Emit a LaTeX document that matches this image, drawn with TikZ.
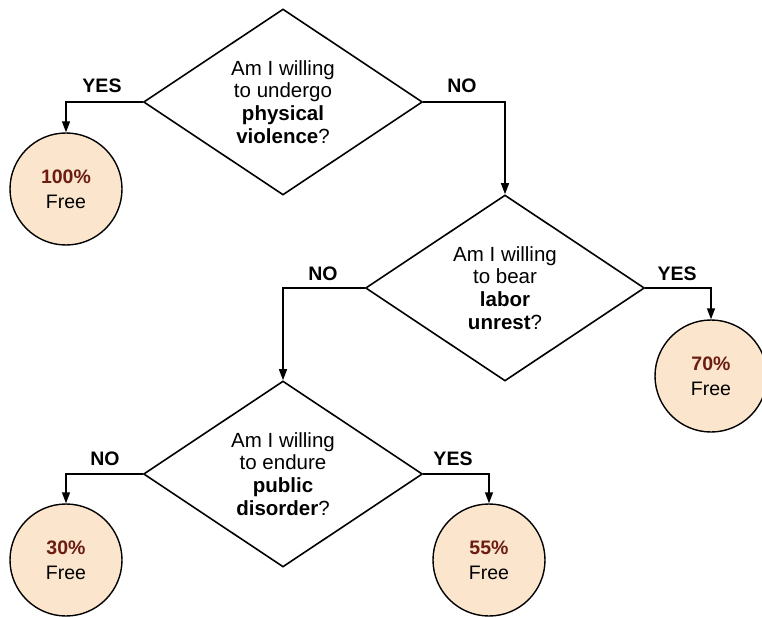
\documentclass[tikz,border=0pt]{standalone}
\usepackage{fontspec}
\setmainfont{Liberation Sans}
\usetikzlibrary{arrows.meta}
\usetikzlibrary{shapes.geometric}
\tikzset{quest/.style = {draw, diamond, aspect = 1.5, inner sep = 0, minimum width = 279pt, minimum height = 186pt, line width = 1.6pt, align = center, font = \fontsize{20.5}{22.7}\selectfont}}
\tikzset{outcome/.style = {draw, fill = mpeach, circle, inner sep = 0, minimum size = 112pt, line width = 1.4pt, align = center, font = \fontsize{19.5}{25}\selectfont}}
\tikzset{answer/.style = {anchor = base, font = \fontsize{19.5}{22}\selectfont\bfseries}}
\tikzset{link/.style = {line width = 1.4pt, -{Triangle[length = 11pt, width = 8pt]}}}
\definecolor{mpeach}{HTML}{FCE5CD}
\definecolor{mbrown}{HTML}{6B1D12}

\begin{document}
\begin{tikzpicture}[x = 1pt, y = -1pt]
      \useasboundingbox (0, 0) rectangle (762, 617);

      \node [quest] (q1) at (283, 102) {Am I willing\\to undergo\\\textbf{physical}\\\textbf{violence}?};
      \node [quest] (q2) at (505, 288) {Am I willing\\to bear\\\textbf{labor}\\\textbf{unrest}?};
      \node [quest] (q3) at (283, 474) {Am I willing\\to endure\\\textbf{public}\\\textbf{disorder}?};

      \node [outcome] (c100) at (66, 189) {\textcolor{mbrown}{\textbf{100\%}}\\Free};
      \node [outcome] (c70) at (711, 376) {\textcolor{mbrown}{\textbf{70\%}}\\Free};
      \node [outcome] (c30) at (66, 560) {\textcolor{mbrown}{\textbf{30\%}}\\Free};
      \node [outcome] (c55) at (489, 560) {\textcolor{mbrown}{\textbf{55\%}}\\Free};

      \draw [link] (q1.west) -| (c100.north);
      \draw [link] (q1.east) -| (q2.north);
      \draw [link] (q2.east) -| (c70.north);
      \draw [link] (q2.west) -| (q3.north);
      \draw [link] (q3.west) -| (c30.north);
      \draw [link] (q3.east) -| (c55.north);

      \node [answer] (yes1) at (102, 93) {YES};
      \node [answer] (no1) at (462, 93) {NO};
      \node [answer] (no2) at (323, 280) {NO};
      \node [answer] (yes2) at (677, 280) {YES};
      \node [answer] (no3) at (105, 465) {NO};
      \node [answer] (yes3) at (453, 465) {YES};
    \end{tikzpicture}
\end{document}
